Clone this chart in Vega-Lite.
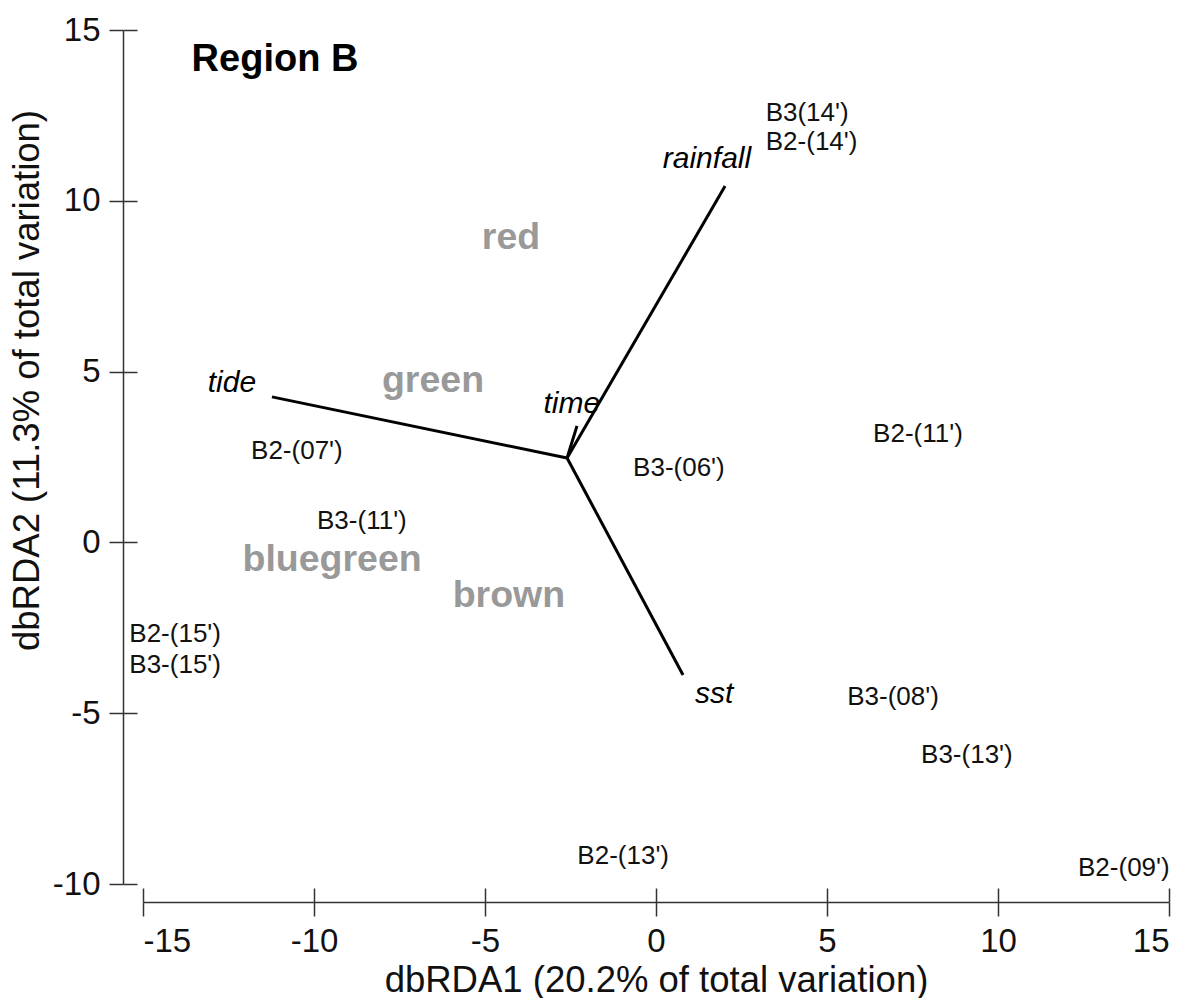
{
  "$schema": "https://vega.github.io/schema/vega-lite/v6.json",
  "width": 1026,
  "height": 854,
  "autosize": {"type": "none"},
  "padding": {"left": 143, "top": 30, "right": 23, "bottom": 114},
  "background": "white",
  "config": {
    "view": {"stroke": null},
    "font": "Liberation Sans",
    "axis": {
      "grid": false,
      "domainColor": "#333333",
      "tickColor": "#333333",
      "domainWidth": 1.5,
      "tickWidth": 1.5,
      "labelFont": "Liberation Sans",
      "labelFontSize": 33,
      "labelColor": "#111111",
      "titleFont": "Liberation Sans",
      "titleFontSize": 36.5,
      "titleFontWeight": "normal",
      "titleColor": "#111111"
    }
  },
  "datasets": {
    "vectors": [
      {"var": "tide", "x0": -2.6, "y0": 2.47, "x1": -11.23, "y1": 4.26, "lx": -12.4, "ly": 4.67},
      {"var": "rainfall", "x0": -2.6, "y0": 2.47, "x1": 2.02, "y1": 10.43, "lx": 1.49, "ly": 11.22},
      {"var": "sst", "x0": -2.6, "y0": 2.47, "x1": 0.79, "y1": -3.88, "lx": 1.7, "ly": -4.44},
      {"var": "time", "x0": -2.6, "y0": 2.47, "x1": -2.31, "y1": 3.41, "lx": -2.46, "ly": 4.05}
    ],
    "samples": [
      {"label": "B3(14')", "x": 4.42, "y": 12.57},
      {"label": "B2-(14')", "x": 4.55, "y": 11.72},
      {"label": "B2-(11')", "x": 7.66, "y": 3.17},
      {"label": "B3-(06')", "x": 0.67, "y": 2.18},
      {"label": "B2-(07')", "x": -10.5, "y": 2.68},
      {"label": "B3-(11')", "x": -8.6, "y": 0.63},
      {"label": "B2-(15')", "x": -14.06, "y": -2.68},
      {"label": "B3-(15')", "x": -14.06, "y": -3.59},
      {"label": "B3-(08')", "x": 6.93, "y": -4.53},
      {"label": "B3-(13')", "x": 9.09, "y": -6.22},
      {"label": "B2-(13')", "x": -0.96, "y": -9.18},
      {"label": "B2-(09')", "x": 13.68, "y": -9.53}
    ],
    "colours": [
      {"label": "red", "x": -4.24, "y": 8.9},
      {"label": "green", "x": -6.52, "y": 4.72},
      {"label": "bluegreen", "x": -9.47, "y": -0.52},
      {"label": "brown", "x": -4.3, "y": -1.58}
    ],
    "heading": [
      {"label": "Region B", "x": -11.14, "y": 14.12}
    ]
  },
  "resolve": {"axis": {"x": "independent", "y": "independent"}},
  "layer": [
    {
      "data": {"name": "vectors"},
      "mark": {"type": "rule", "color": "#000000", "strokeWidth": 3},
      "encoding": {
        "x": {
          "field": "x0", "type": "quantitative",
          "scale": {"domain": [-15, 15], "nice": false, "zero": false},
          "axis": {
            "orient": "bottom", "offset": 18, "values": [-15, -10, -5, 0, 5, 10, 15],
            "tickSize": 14, "labelPadding": 9,
            "labelExpr": "toString(datum.value)",
            "title": "dbRDA1 (20.2% of total variation)",
            "titleY": 89, "titleBaseline": "alphabetic"
          }
        },
        "y": {
          "field": "y0", "type": "quantitative",
          "scale": {"domain": [-10, 15], "nice": false, "zero": false},
          "axis": {
            "orient": "left", "offset": 20, "values": [-10, -5, 0, 5, 10, 15],
            "tickSize": 14, "labelPadding": 9,
            "labelExpr": "toString(datum.value)",
            "title": "dbRDA2 (11.3% of total variation)",
            "titleX": -96, "titleY": 350, "titleAngle": -90, "titleBaseline": "middle", "titleAlign": "center"
          }
        },
        "x2": {"field": "x1"},
        "y2": {"field": "y1"}
      }
    },
    {
      "data": {"name": "samples"},
      "mark": {"type": "text", "font": "Liberation Sans", "fontSize": 26, "color": "#111111", "align": "center", "baseline": "middle"},
      "encoding": {
        "x": {
          "field": "x", "type": "quantitative",
          "axis": {
            "orient": "bottom", "offset": 4, "values": [-15, -10, -5, 0, 5, 10, 15],
            "tickSize": 14, "labels": false, "domain": false, "title": null
          }
        },
        "y": {
          "field": "y", "type": "quantitative",
          "axis": {
            "orient": "left", "offset": 6, "values": [-10, -5, 0, 5, 10, 15],
            "tickSize": 14, "labels": false, "domain": false, "title": null
          }
        },
        "text": {"field": "label"}
      }
    },
    {
      "data": {"name": "vectors"},
      "mark": {"type": "text", "font": "Liberation Sans", "fontSize": 30, "fontStyle": "italic", "color": "#000000", "align": "center", "baseline": "middle"},
      "encoding": {
        "x": {"field": "lx", "type": "quantitative", "axis": null},
        "y": {"field": "ly", "type": "quantitative", "axis": null},
        "text": {"field": "var"}
      }
    },
    {
      "data": {"name": "colours"},
      "mark": {"type": "text", "font": "Liberation Sans", "fontSize": 37.5, "fontWeight": "bold", "color": "#999999", "align": "center", "baseline": "middle"},
      "encoding": {
        "x": {"field": "x", "type": "quantitative", "axis": null},
        "y": {"field": "y", "type": "quantitative", "axis": null},
        "text": {"field": "label"}
      }
    },
    {
      "data": {"name": "heading"},
      "mark": {"type": "text", "font": "Liberation Sans", "fontSize": 38, "fontWeight": "bold", "color": "#000000", "align": "center", "baseline": "middle"},
      "encoding": {
        "x": {"field": "x", "type": "quantitative", "axis": null},
        "y": {"field": "y", "type": "quantitative", "axis": null},
        "text": {"field": "label"}
      }
    }
  ]
}
